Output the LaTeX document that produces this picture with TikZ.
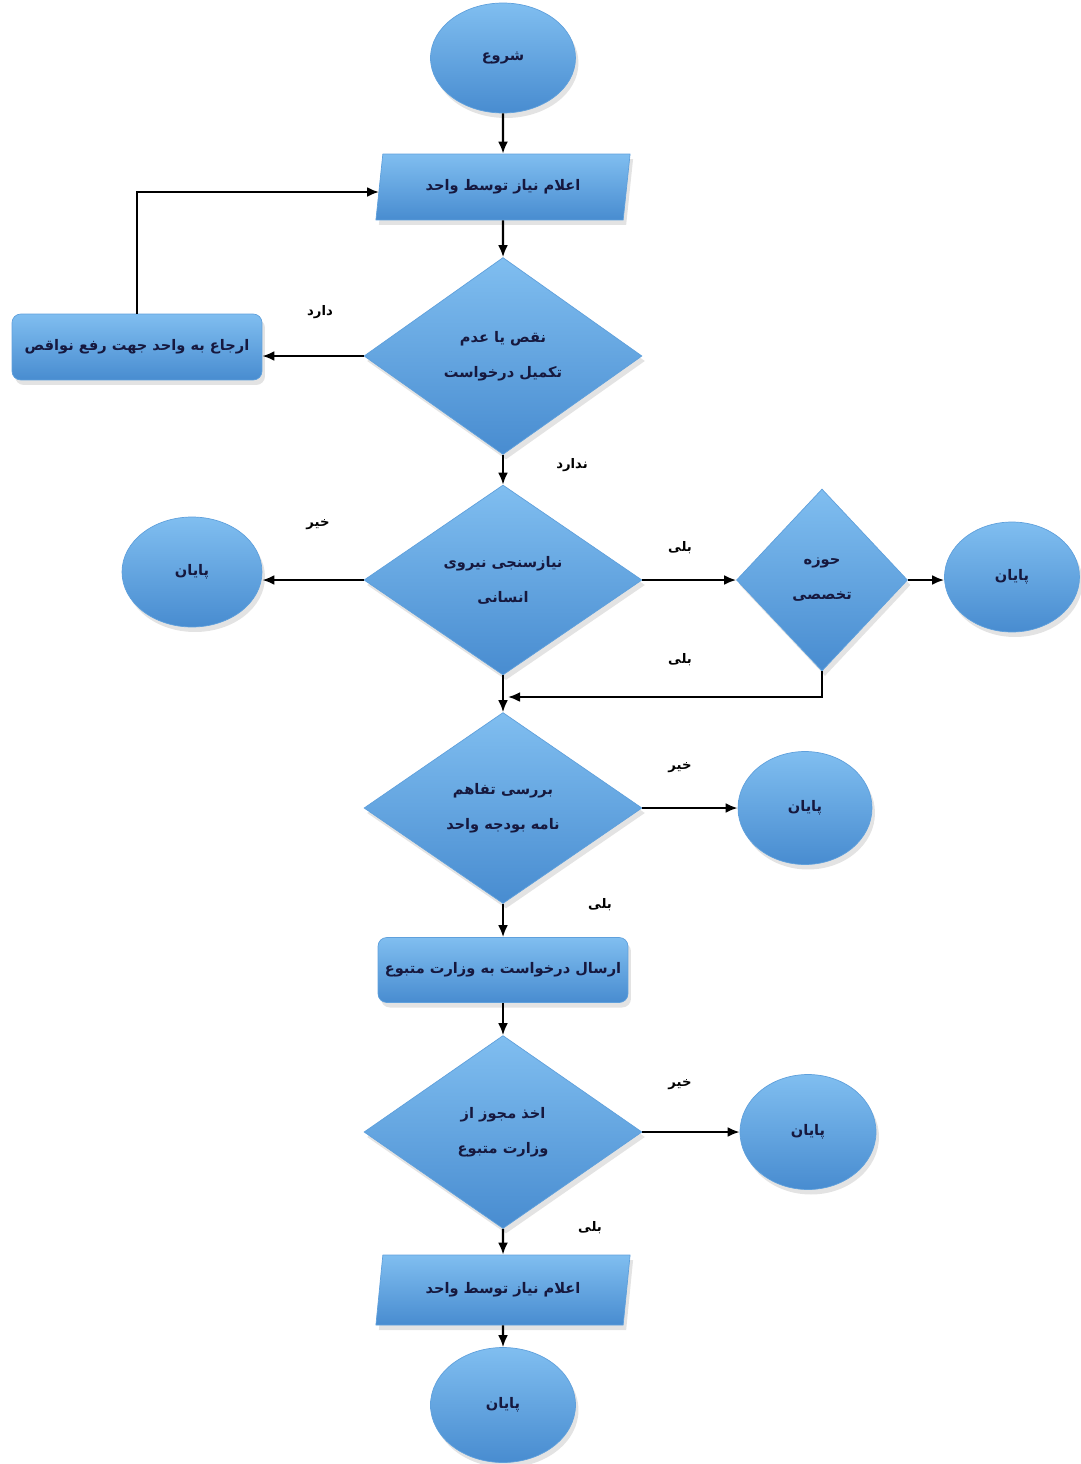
\documentclass[tikz,border=0pt]{standalone}
\usepackage{fontspec}
\newfontfamily\arabicfont[Script=Arabic]{DejaVu Sans}
\TeXXeTstate=1
\usetikzlibrary{shapes.geometric,arrows.meta,shadows,calc}
\newcommand\fatxt[1]{\beginR #1\endR}
\definecolor{boxtop}{RGB}{128,190,240}
\definecolor{boxbot}{RGB}{72,140,208}
\definecolor{boxedge}{RGB}{95,160,220}
\definecolor{inkblue}{RGB}{22,24,62}
\tikzset{
  blk/.style={font=\arabicfont\bfseries\fontsize{8.3}{20}\selectfont, text=inkblue,
    top color=boxtop, bottom color=boxbot, draw=boxedge, line width=0.4pt,
    drop shadow={opacity=0.22, shadow xshift=0.6mm, shadow yshift=-1mm},
    inner sep=0pt, align=center},
  decision/.style={blk, diamond, minimum width=5.56cm, minimum height=3.9cm},
  terminal/.style={blk, ellipse, minimum width=2.8cm, minimum height=2.2cm},
  iobox/.style={blk, trapezium, trapezium left angle=73, trapezium right angle=107,
    trapezium stretches=true, minimum width=5.1cm, minimum height=1.32cm},
  procbox/.style={blk, rectangle, rounded corners=5pt, minimum width=5cm, minimum height=1.32cm},
  arr/.style={-{Latex[length=2.4mm,width=2mm]}, line width=1.3pt, black},
  lbl/.style={font=\arabicfont\bfseries\fontsize{7.5}{8}\selectfont, text=black}
}
\begin{document}
\begin{tikzpicture}[x=0.02cm, y=-0.02cm]
  \useasboundingbox (0,0) rectangle (1081,1464);

  % main column
  \node[terminal, minimum width=2.9cm, minimum height=2.2cm] (start) at (503,58) {\fatxt{شروع}};
  \node[iobox] (par1) at (503,187) {\fatxt{اعلام نیاز توسط واحد}};
  \node[decision, minimum height=3.94cm] (d1) at (503,356) {\fatxt{نقص یا عدم}\\\fatxt{تکمیل درخواست}};
  \node[procbox] (box1) at (137,347) {\fatxt{ارجاع به واحد جهت رفع نواقص}};
  \node[decision, minimum height=3.8cm] (d2) at (503,580) {\fatxt{نیازسنجی نیروی}\\\fatxt{انسانی}};
  \node[terminal] (endL) at (192,572) {\fatxt{پایان}};
  \node[decision, minimum width=3.42cm, minimum height=3.64cm] (d3) at (822,580) {\fatxt{حوزه}\\\fatxt{تخصصی}};
  \node[terminal, minimum width=2.7cm] (endR) at (1012,577) {\fatxt{پایان}};
  \node[decision, minimum height=3.82cm] (d4) at (503,808) {\fatxt{بررسی تفاهم}\\\fatxt{نامه بودجه واحد}};
  \node[terminal, minimum width=2.68cm, minimum height=2.26cm] (end3) at (805,808) {\fatxt{پایان}};
  \node[procbox, minimum height=1.3cm] (box2) at (503,970) {\fatxt{ارسال درخواست به وزارت متبوع}};
  \node[decision, minimum height=3.86cm] (d5) at (503,1132) {\fatxt{اخذ مجوز از}\\\fatxt{وزارت متبوع}};
  \node[terminal, minimum width=2.72cm, minimum height=2.3cm] (end4) at (808,1132) {\fatxt{پایان}};
  \node[iobox, minimum height=1.4cm] (par2) at (503,1290) {\fatxt{اعلام نیاز توسط واحد}};
  \node[terminal, minimum width=2.9cm, minimum height=2.3cm] (end5) at (503,1405) {\fatxt{پایان}};

  \coordinate (merge) at (508,697);

  % connectors
  \draw[arr] (start) -- (par1);
  \draw[arr] (par1) -- (d1);
  \draw[arr] (d1.west) -- (d1.west -| box1.east);
  \draw[arr] (box1.north) |- ($(par1.west)+(0,5)$);
  \draw[arr] (d1) -- (d2);
  \draw[arr] (d2.west) -- (d2.west -| endL.east);
  \draw[arr] (d2.east) -- (d2.east -| d3.west);
  \draw[arr] (d3.east) -- (d3.east -| endR.west);
  \draw[arr] (d3.south) |- (merge);
  \draw[arr] (d2) -- (d4);
  \draw[arr] (d4.east) -- (d4.east -| end3.west);
  \draw[arr] (d4) -- (box2);
  \draw[arr] (box2) -- (d5);
  \draw[arr] (d5.east) -- (d5.east -| end4.west);
  \draw[arr] (d5) -- (par2);
  \draw[arr] (par2) -- (end5);

  % branch labels
  \node[lbl] (l1) at (320,312) {\fatxt{دارد}};
  \node[lbl] (l2) at (572,465) {\fatxt{ندارد}};
  \node[lbl] (l3) at (318,525) {\fatxt{خیر}};
  \node[lbl] (l4) at (680,548) {\fatxt{بلی}};
  \node[lbl] (l5) at (680,660) {\fatxt{بلی}};
  \node[lbl] (l6) at (680,768) {\fatxt{خیر}};
  \node[lbl] (l7) at (600,905) {\fatxt{بلی}};
  \node[lbl] (l8) at (680,1085) {\fatxt{خیر}};
  \node[lbl] (l9) at (590,1228) {\fatxt{بلی}};
\end{tikzpicture}
\end{document}
